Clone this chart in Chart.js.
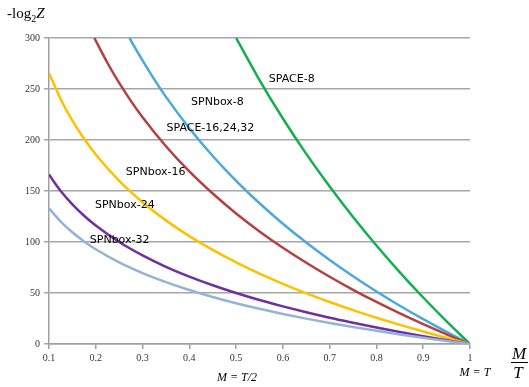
<!DOCTYPE html>
<html>
<head>
<meta charset="utf-8">
<script src="https://cdn.jsdelivr.net/npm/chart.js@4/dist/chart.umd.min.js"></script>
<style>
  html, body { margin: 0; padding: 0; background: #fff; }
  #wrap { width: 529px; height: 387px; position: relative; }
</style>
</head>
<body>
<div id="wrap"><canvas id="myChart"></canvas></div>
<script>
// x = M/T, y = -log2 Z
var spnbox32X = [0.1, 0.125, 0.15, 0.175, 0.2, 0.25, 0.3, 0.35, 0.4, 0.45, 0.5, 0.55, 0.6, 0.65, 0.7, 0.75, 0.8, 0.85, 0.9, 0.95, 1];
var spnbox32Y = [132.9, 120, 109.5, 100.6, 92.9, 80, 69.5, 60.6, 52.9, 46.1, 40, 34.5, 29.5, 24.9, 20.6, 16.6, 12.9, 9.4, 6.1, 3, 0];

var spnbox24X = [0.1, 0.125, 0.15, 0.175, 0.2, 0.25, 0.3, 0.35, 0.4, 0.45, 0.5, 0.55, 0.6, 0.65, 0.7, 0.75, 0.8, 0.85, 0.9, 0.95, 1];
var spnbox24Y = [166.1, 150, 136.9, 125.7, 116.1, 100, 86.9, 75.7, 66.1, 57.6, 50, 43.1, 36.9, 31.1, 25.7, 20.8, 16.1, 11.7, 7.6, 3.7, 0];

var spnbox16X = [0.1, 0.125, 0.15, 0.175, 0.2, 0.25, 0.3, 0.35, 0.4, 0.45, 0.5, 0.55, 0.6, 0.65, 0.7, 0.75, 0.8, 0.85, 0.9, 0.95, 1];
var spnbox16Y = [265.8, 240, 219, 201.2, 185.8, 160, 139, 121.2, 105.8, 92.2, 80, 69, 59, 49.7, 41.2, 33.2, 25.8, 18.8, 12.2, 5.9, 0];

var space16X = [0.197, 0.225, 0.25, 0.275, 0.3, 0.35, 0.4, 0.45, 0.5, 0.55, 0.6, 0.65, 0.7, 0.75, 0.8, 0.85, 0.9, 0.95, 1];
var space16Y = [300, 275.5, 256, 238.4, 222.3, 193.9, 169.2, 147.5, 128, 110.4, 94.3, 79.6, 65.9, 53.1, 41.2, 30, 19.5, 9.5, 0];

var spnbox8X = [0.272, 0.3, 0.325, 0.35, 0.4, 0.45, 0.5, 0.55, 0.6, 0.65, 0.7, 0.75, 0.8, 0.85, 0.9, 0.95, 1];
var spnbox8Y = [300, 278, 259.4, 242.3, 211.5, 184.3, 160, 138, 117.9, 99.4, 82.3, 66.4, 51.5, 37.5, 24.3, 11.8, 0];

var space8X = [0.5, 0.55, 0.6, 0.65, 0.7, 0.75, 0.8, 0.85, 0.9, 0.95, 1];
var space8Y = [300, 258.8, 221.1, 186.4, 154.4, 124.5, 96.6, 70.3, 45.6, 22.2, 0];

var seriesNames = ['SPACE-8', 'SPNbox-8', 'SPACE-16,24,32', 'SPNbox-16', 'SPNbox-24', 'SPNbox-32'];

// where each series name is written (data coords)
var labelSpots = [
  { text: 'SPACE-8', x: 0.619, y: 260 },
  { text: 'SPNbox-8', x: 0.46, y: 237 },
  { text: 'SPACE-16,24,32', x: 0.445, y: 212 },
  { text: 'SPNbox-16', x: 0.328, y: 168 },
  { text: 'SPNbox-24', x: 0.262, y: 136 },
  { text: 'SPNbox-32', x: 0.251, y: 102 }
];

function points(xs, ys) {
  return xs.map(function (x, i) { return { x: x, y: ys[i] }; });
}

function makeSet(name, xs, ys, color) {
  return {
    label: name,
    data: points(xs, ys),
    borderColor: color,
    backgroundColor: color,
    borderWidth: 2.5,
    pointRadius: 0,
    fill: false,
    cubicInterpolationMode: 'monotone'
  };
}

// draws the curve names and the axis captions
var textPlugin = {
  id: 'textPlugin',
  afterDatasetsDraw: function (chart) {
    var ctx = chart.ctx;
    var xs = chart.scales.x, ys = chart.scales.y;
    ctx.save();
    ctx.fillStyle = '#000';
    ctx.textAlign = 'center';
    ctx.textBaseline = 'middle';
    ctx.font = '11px "DejaVu Sans"';
    labelSpots.forEach(function (l) {
      ctx.fillText(l.text, xs.getPixelForValue(l.x), ys.getPixelForValue(l.y));
    });

    // y title: -log2Z
    ctx.textAlign = 'left';
    ctx.textBaseline = 'alphabetic';
    ctx.font = '15px "Liberation Serif"';
    ctx.fillText('-log', 7, 18);
    var w = ctx.measureText('-log').width;
    ctx.font = '10px "Liberation Serif"';
    ctx.fillText('2', 7 + w, 22);
    var w2 = ctx.measureText('2').width;
    ctx.font = 'italic 15px "Liberation Serif"';
    ctx.fillText('Z', 7 + w + w2, 18);

    // bottom notes
    ctx.font = 'italic 12px "Liberation Serif"';
    ctx.textAlign = 'center';
    ctx.fillText('M = T/2', 237, 381);
    ctx.fillText('M = T', 475, 376);

    // M/T fraction
    ctx.font = 'italic 17px "Liberation Serif"';
    ctx.fillText('M', 519, 359);
    ctx.fillText('T', 518, 378);
    ctx.strokeStyle = '#000';
    ctx.lineWidth = 1;
    ctx.beginPath();
    ctx.moveTo(511, 362.5);
    ctx.lineTo(528, 362.5);
    ctx.stroke();
    ctx.restore();
  }
};

document.addEventListener('DOMContentLoaded', function () {
  var ctx = document.getElementById('myChart').getContext('2d');
  var myChart = new Chart(ctx, {
    type: 'line',
    data: {
      datasets: [
        makeSet(seriesNames[5], spnbox32X, spnbox32Y, '#95b3d7'),
        makeSet(seriesNames[4], spnbox24X, spnbox24Y, '#7030a0'),
        makeSet(seriesNames[3], spnbox16X, spnbox16Y, '#ffc000'),
        makeSet(seriesNames[2], space16X, space16Y, '#b3413f'),
        makeSet(seriesNames[1], spnbox8X, spnbox8Y, '#4ba9d9'),
        makeSet(seriesNames[0], space8X, space8Y, '#12b04c')
      ]
    },
    options: {
      responsive: true,
      maintainAspectRatio: false,
      animation: false,
      layout: { padding: { left: 0, right: 59, top: 38, bottom: 0 } },
      plugins: {
        legend: { display: false },
        tooltip: { enabled: false }
      },
      scales: {
        x: {
          type: 'linear',
          min: 0.1,
          max: 1,
          afterFit: function (s) { s.height = 43; },
          ticks: {
            stepSize: 0.1,
            color: '#333',
            font: { family: 'Liberation Serif', size: 10 },
            padding: 3,
            maxRotation: 0,
            callback: function (v) { return String(+v.toFixed(1)); }
          },
          grid: { drawOnChartArea: false, drawTicks: true, tickLength: 5, color: '#a0a0a0', lineWidth: 1.5 },
          border: { color: '#a0a0a0', width: 1.5 }
        },
        y: {
          min: 0,
          max: 300,
          afterFit: function (s) { s.width = 49; },
          ticks: {
            stepSize: 50,
            color: '#333',
            font: { family: 'Liberation Serif', size: 10 },
            padding: 4
          },
          grid: { color: '#a6a6a6', lineWidth: 1.5, drawTicks: true, tickLength: 5 },
          border: { color: '#a0a0a0', width: 1.5 }
        }
      }
    },
    plugins: [textPlugin]
  });
});
</script>
</body>
</html>
